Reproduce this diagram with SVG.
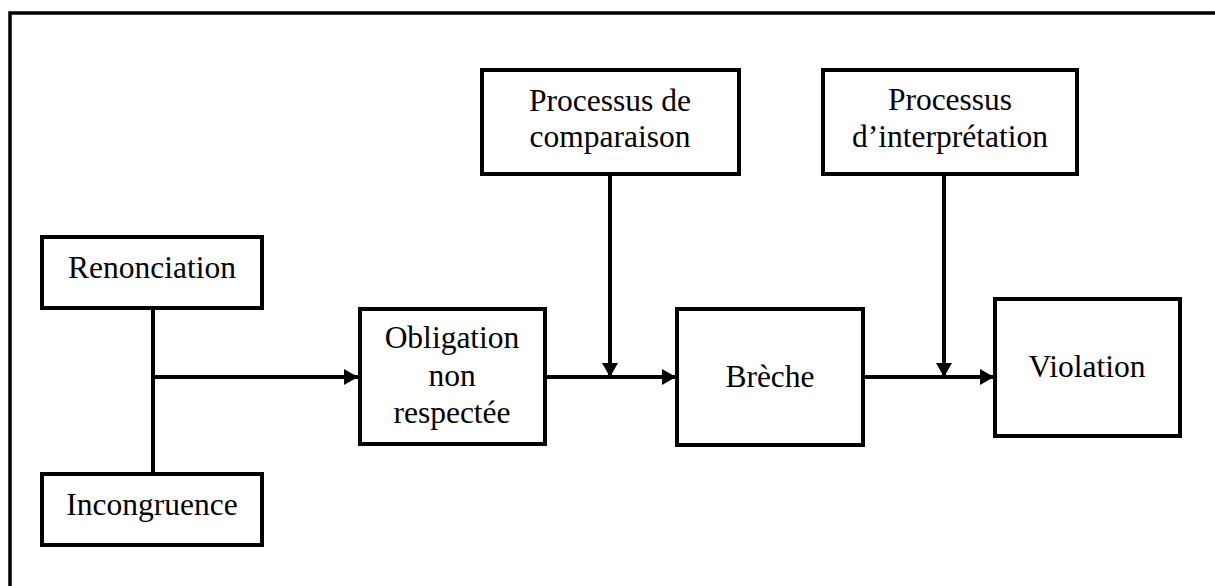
<svg xmlns="http://www.w3.org/2000/svg" width="1215" height="586" viewBox="0 0 1215 586">
<style>
.box{fill:#fff;stroke:#000;stroke-width:4}
.lbl{font-family:"Liberation Serif","Times New Roman",serif;font-size:31.5px;fill:#000;text-anchor:middle}
.con{fill:none;stroke:#000;stroke-width:4}
.frame{fill:none;stroke:#000;stroke-width:3.5}
</style>
<defs>
<marker id="arr" markerWidth="14" markerHeight="16" refX="14" refY="8" orient="auto" markerUnits="userSpaceOnUse">
<path d="M0,0 L14,8 L0,16 Z" fill="#000"/>
</marker>
</defs>
<rect width="1215" height="586" fill="#fff"/>
<path class="frame" d="M10,586 L10,13 L1215,13"/>
<g id="connectors">
<path class="con" d="M153,310 L153,473"/>
<path class="con" d="M153,377 L358,377" marker-end="url(#arr)"/>
<path class="con" d="M545,377 L676,377" marker-end="url(#arr)"/>
<path class="con" d="M610,174 L610,377" marker-end="url(#arr)"/>
<path class="con" d="M863,377 L994,377" marker-end="url(#arr)"/>
<path class="con" d="M944,174 L944,377" marker-end="url(#arr)"/>
</g>
<g id="renonciation">
<rect class="box" x="42" y="237" width="220" height="71"/>
<text class="lbl" x="152" y="278">Renonciation</text>
</g>
<g id="incongruence">
<rect class="box" x="42" y="474" width="220" height="71"/>
<text class="lbl" x="152" y="515">Incongruence</text>
</g>
<g id="obligation">
<rect class="box" x="360" y="309" width="185" height="135"/>
<text class="lbl" x="452" y="348">Obligation</text>
<text class="lbl" x="452" y="386">non</text>
<text class="lbl" x="452" y="423">respectée</text>
</g>
<g id="comparaison">
<rect class="box" x="482" y="70" width="257" height="104"/>
<text class="lbl" x="610" y="111">Processus de</text>
<text class="lbl" x="610" y="147">comparaison</text>
</g>
<g id="breche">
<rect class="box" x="677" y="309" width="186" height="136"/>
<text class="lbl" x="770" y="387">Brèche</text>
</g>
<g id="interpretation">
<rect class="box" x="823" y="70" width="254" height="104"/>
<text class="lbl" x="950" y="110">Processus</text>
<text class="lbl" x="950" y="147">d’interprétation</text>
</g>
<g id="violation">
<rect class="box" x="995" y="299" width="185" height="137"/>
<text class="lbl" x="1087" y="377">Violation</text>
</g>
</svg>
